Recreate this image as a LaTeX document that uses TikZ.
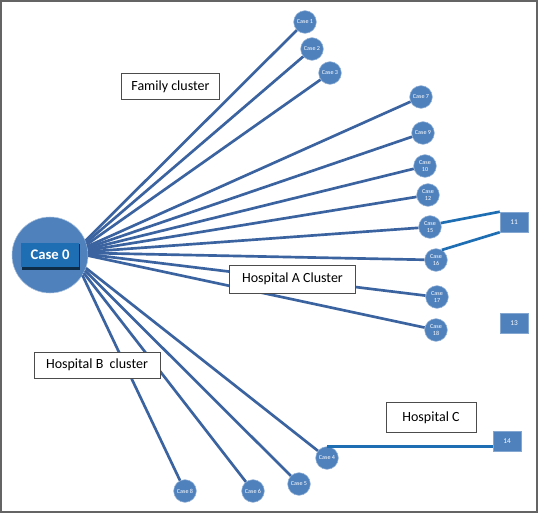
\documentclass[tikz,border=0pt]{standalone}
\usepackage{fontspec}
\setmainfont{Carlito}
\definecolor{caseblue}{RGB}{79,129,189}
\definecolor{linkblue}{RGB}{58,99,160}
\definecolor{darkbox}{RGB}{30,110,180}
\definecolor{framegray}{RGB}{100,100,100}
\begin{document}
\begin{tikzpicture}
	[	x=0.75pt,y=-0.75pt,
		casenode/.style={circle,fill=caseblue,draw=caseblue!60!white,line width=0.4pt,minimum size=17pt,inner sep=0pt,
			text=white,align=center,font=\fontsize{4.6}{4.8}\selectfont},
		numbox/.style={rectangle,fill=caseblue,draw=caseblue!70!white,minimum width=21pt,minimum height=15pt,inner sep=0pt,
			text=white,font=\fontsize{5.5}{6}\selectfont},
		clusterbox/.style={rectangle,draw=black!70,fill=white,line width=0.6pt,inner sep=0pt,font=\fontsize{10.5}{11}\selectfont},
		link/.style={draw=linkblue,line width=2pt},
		crosslink/.style={draw=darkbox,line width=2pt}
	]
	\fill[white] (0,0) rectangle (538,513);
	\useasboundingbox (0,0) rectangle (538,513);

	\node[circle,fill=caseblue,draw=caseblue!50!white,minimum size=57pt,inner sep=0pt] (c0) at (50,255){};
	\node[rectangle,fill=black!60!darkbox,minimum width=44pt,minimum height=19pt] at (51,257){};
	\node[rectangle,fill=darkbox,minimum width=44pt,minimum height=18pt,text=white,font=\bfseries\fontsize{11}{11}\selectfont] (c0text) at (50,254.5){Case 0};

	\node[casenode] (case1) at (305,22){Case 1};
	\node[casenode] (case2) at (312,49){Case 2};
	\node[casenode] (case3) at (330,73){Case 3};
	\node[casenode] (case7) at (421,97){Case 7};
	\node[casenode] (case9) at (423,133){Case 9};
	\node[casenode] (case10) at (425,166){Case\\10};
	\node[casenode] (case12) at (428,195){Case\\12};
	\node[casenode] (case15) at (430,227){Case\\15};
	\node[casenode] (case16) at (436,260){Case\\16};
	\node[casenode] (case17) at (437,297){Case\\17};
	\node[casenode] (case18) at (436,330){Case\\18};
	\node[casenode] (case4) at (327,458){Case 4};
	\node[casenode] (case5) at (299,484){Case 5};
	\node[casenode] (case6) at (253,491){Case 6};
	\node[casenode] (case8) at (185,491){Case 8};

	\node[numbox] (n11) at (514,222){11};
	\node[numbox] (n13) at (514,323){13};
	\node[numbox] (n14) at (507,441){14};

	% spokes from case 0
	\foreach \n/\a in {1/22,2/19,3/16,7/13,9/11,10/9,12/7,15/5,16/3,17/1,18/-1,4/-20,5/-24,6/-28,8/-32}
		\draw[link] (c0.\a) -- (case\n);

	\draw[crosslink] (case15.20) -- (n11.north west);
	\draw[crosslink] (case16.60) -- (n11.south west);
	\draw[crosslink] (case4.north) -- (case4.north -| n14.west);

	\node[clusterbox,minimum width=74pt,minimum height=20pt] (family) at (170.5,86.5){Family cluster};
	\node[clusterbox,minimum width=95pt,minimum height=21pt] (hospA) at (292.5,279){Hospital A Cluster};
	\node[clusterbox,minimum width=94.5pt,minimum height=19.5pt] (hospB) at (97,365){Hospital B\ \ cluster};
	\node[clusterbox,minimum width=67.5pt,minimum height=22pt] (hospC) at (431,417.5){Hospital C};

	\draw[framegray,line width=1.6pt] (1,1) rectangle (537,512);
\end{tikzpicture}
\end{document}
